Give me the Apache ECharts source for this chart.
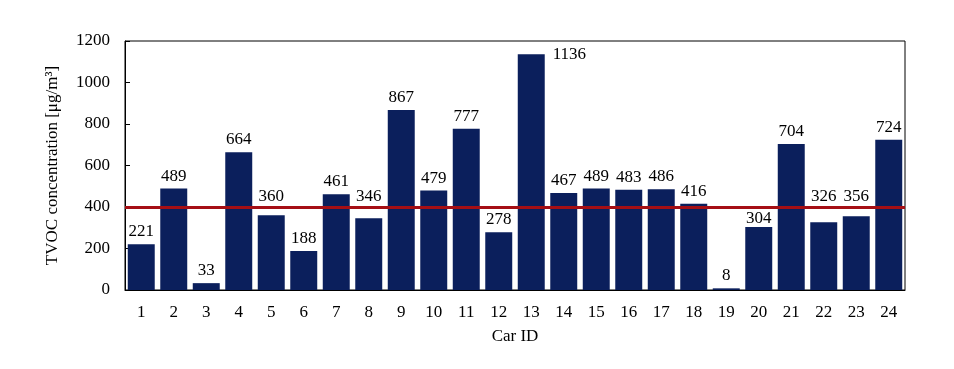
<!DOCTYPE html>
<html><head><meta charset="utf-8">
<script src="https://cdn.jsdelivr.net/npm/echarts@6/dist/echarts.min.js"></script>
<style>html,body{margin:0;padding:0;background:#fff}#c{width:954px;height:369px}</style>
</head><body><div id="c"></div>
<script>
const categories = ['1','2','3','4','5','6','7','8','9','10','11','12','13','14','15','16','17','18','19','20','21','22','23','24'];
const values = [221,489,33,664,360,188,461,346,867,479,777,278,1136,467,489,483,486,416,8,304,704,326,356,724];
const threshold = 400;
const yTicks = {min:0, max:1200, interval:200};
const xName = 'Car ID';
const yName = 'TVOC concentration [μg/m³]';

const font = 'Liberation Serif, Times New Roman, serif';
const chart = echarts.init(document.getElementById('c'), null, {renderer:'canvas'});
function buildData(lineY, toPx){
  return values.map(function(v){
    if (v > yTicks.max - 100) {
      return {value:v, label:{position:['100%', 0], offset:[8, 0], align:'left', verticalAlign:'middle'}};
    }
    if (toPx && v < threshold) {
      const barTop = toPx(v);
      const boxTop = barTop - 4 - 17;
      if (boxTop < lineY - 2) {
        // lift label above the threshold line
        return {value:v, label:{offset:[0, lineY - barTop + 2]}};
      }
      if (boxTop < lineY + 3) {
        // nudge label down to clear the threshold line
        return {value:v, label:{offset:[0, lineY + 3 - boxTop]}};
      }
    }
    return v;
  });
}
const option = {
  animation:false,
  grid:{left:125, right:49, top:41, bottom:79, show:true, borderColor:'#000', borderWidth:1, backgroundColor:'transparent'},
  xAxis:{type:'category', data:categories, name:xName, nameLocation:'middle', nameGap:38,
    nameTextStyle:{fontFamily:font, fontSize:17, color:'#000'},
    axisLine:{lineStyle:{color:'#000', width:1}},
    axisTick:{inside:true, length:5, lineStyle:{color:'#000'}},
    axisLabel:{fontFamily:font, fontSize:17, color:'#000', margin:14}},
  yAxis:{type:'value', min:yTicks.min, max:yTicks.max, interval:yTicks.interval, name:yName, nameLocation:'middle', nameGap:64,
    nameTextStyle:{fontFamily:font, fontSize:17, color:'#000'},
    axisLine:{show:true, lineStyle:{color:'#000', width:1}},
    axisTick:{show:true, inside:true, length:5, lineStyle:{color:'#000'}},
    splitLine:{show:false},
    axisLabel:{fontFamily:font, fontSize:17, color:'#000', margin:15, formatter:function(v){return String(v);}}},
  series:[{type:'bar', data:buildData(), barCategoryGap:'17%',
    itemStyle:{color:'#0b1f5c'},
    label:{show:true, position:'top', distance:4, fontFamily:font, fontSize:17, color:'#000'},
    markLine:{silent:true, symbol:'none', label:{show:false},
      lineStyle:{color:'#a50f15', width:3, type:'solid'},
      data:[{yAxis:threshold}]}
  }]
};
chart.setOption(option);
const toPx = function(v){ return chart.convertToPixel({yAxisIndex:0}, v); };
const lineY = toPx(threshold);
chart.setOption({series:[{data:buildData(lineY, toPx)}]});
</script></body></html>
